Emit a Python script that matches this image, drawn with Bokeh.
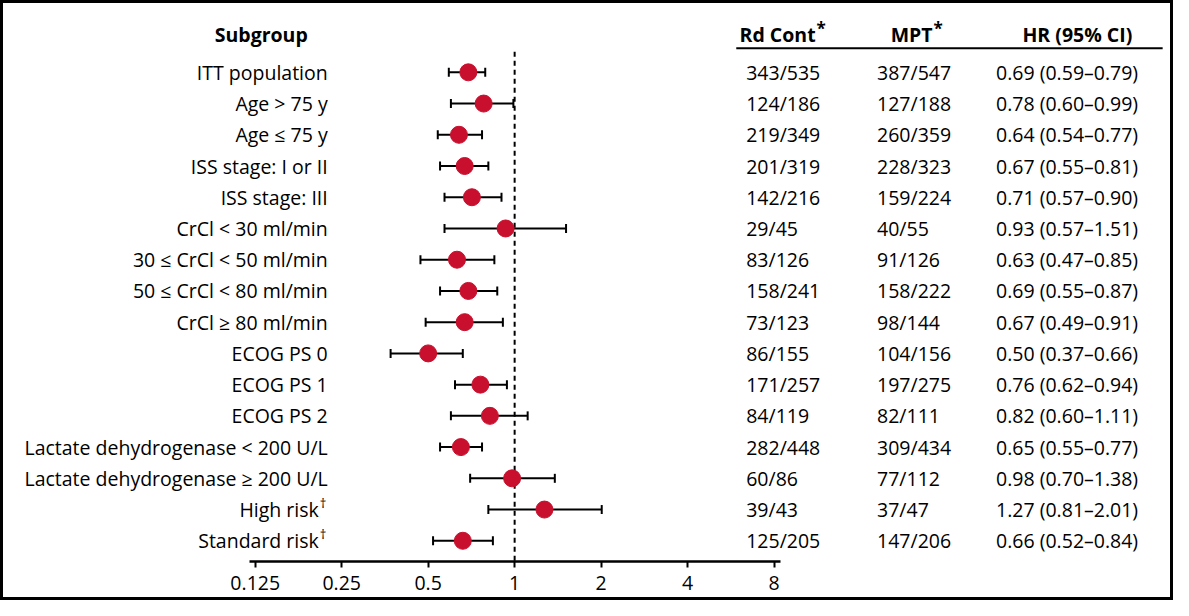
from bokeh.plotting import figure
from bokeh.models import Range1d, FixedTicker, ColumnDataSource, LinearScale
from bokeh.core.properties import value
from bokeh.embed import file_html
from bokeh.resources import INLINE

# ---------------- data ----------------
subgroups = ["ITT population", "Age > 75 y", "Age \u2264 75 y", "ISS stage: I or II",
             "ISS stage: III", "CrCl < 30 ml/min", "30 \u2264 CrCl < 50 ml/min",
             "50 \u2264 CrCl < 80 ml/min", "CrCl \u2265 80 ml/min", "ECOG PS 0",
             "ECOG PS 1", "ECOG PS 2", "Lactate dehydrogenase < 200 U/L",
             "Lactate dehydrogenase \u2265 200 U/L", "High risk", "Standard risk"]
footnotes = [""] * 14 + ["\u2020", "\u2020"]
rd_cont = ["343/535", "124/186", "219/349", "201/319", "142/216", "29/45", "83/126",
           "158/241", "73/123", "86/155", "171/257", "84/119", "282/448", "60/86",
           "39/43", "125/205"]
mpt = ["387/547", "127/188", "260/359", "228/323", "159/224", "40/55", "91/126",
       "158/222", "98/144", "104/156", "197/275", "82/111", "309/434", "77/112",
       "37/47", "147/206"]
hr = [0.69, 0.78, 0.64, 0.67, 0.71, 0.93, 0.63, 0.69, 0.67, 0.50, 0.76, 0.82, 0.65,
      0.98, 1.27, 0.66]
ci_low = [0.59, 0.60, 0.54, 0.55, 0.57, 0.57, 0.47, 0.55, 0.49, 0.37, 0.62, 0.60, 0.55,
          0.70, 0.81, 0.52]
ci_high = [0.79, 0.99, 0.77, 0.81, 0.90, 1.51, 0.85, 0.87, 0.91, 0.66, 0.94, 1.11, 0.77,
           1.38, 2.01, 0.84]
tick_values = [0.125, 0.25, 0.5, 1, 2, 4, 8]
tick_labels = ["0.125", "0.25", "0.5", "1", "2", "4", "8"]
headers = ["Subgroup", "Rd Cont", "MPT", "HR (95% CI)"]

hr_text = ["%.2f (%.2f\u2013%.2f)" % (h, l, u) for h, l, u in zip(hr, ci_low, ci_high)]
rows = list(range(len(subgroups)))

# ---------------- layout constants ----------------
BORDER = 3
W, H = 1173 - 2 * BORDER, 600 - 2 * BORDER
SX, SY = 1173 / 1189, 600 / 616          # reference picture -> our picture


def rx(x):   # reference picture x -> figure pixel
    return x * SX - BORDER


def ry(y):   # reference picture y -> figure pixel
    return y * SY - BORDER


X_ONE = rx(518.5)            # pixel of HR = 1
K = 87.2 * SX                # pixels per doubling
ROW0, ROWH = ry(73.0), 31.73 * SY
AX_Y = ry(570.0)             # pixel of x axis line
FONT = "Open Sans"
FS = "19.5px"
RED = "#C8102E"


def px2hr(px):
    return 2 ** ((px - X_ONE) / K)


def py2row(py):
    return (py - ROW0) / ROWH


p = figure(width=W, height=H, output_backend="svg", toolbar_location=None,
           x_axis_type="log",
           x_range=Range1d(px2hr(0), px2hr(W)),
           y_range=Range1d(py2row(AX_Y), py2row(0)),
           min_border_left=0, min_border_right=0, min_border_top=0,
           min_border_bottom=H - int(round(AX_Y)),
           y_axis_location=None, outline_line_color=None)
p.styles = {"border": "%dpx solid black" % BORDER, "box-sizing": "content-box"}
p.extra_x_ranges = {"px": Range1d(0, W)}
p.extra_x_scales = {"px": LinearScale()}
p.xgrid.visible = False
p.ygrid.visible = False

ax = p.xaxis[0]
ax.ticker = FixedTicker(ticks=tick_values)
ax.major_label_overrides = {v: s for v, s in zip(tick_values, tick_labels)}
ax.bounds = (px2hr(rx(251)), px2hr(rx(787)))
ax.axis_line_width = 2.5
ax.axis_line_color = "black"
ax.major_tick_line_width = 2
ax.major_tick_line_color = "black"
ax.major_tick_out = 6
ax.major_tick_in = 0
ax.minor_tick_out = 0
ax.minor_tick_in = 0
ax.minor_tick_line_color = None
ax.major_label_standoff = 8
ax.major_label_text_font = FONT
ax.major_label_text_font_size = FS
ax.major_label_text_color = "black"

# reference line at HR = 1
p.segment(x0=[1], x1=[1], y0=[py2row(ry(52))], y1=[py2row(AX_Y)],
          line_color="black", line_width=2, line_dash="5 4")

src = ColumnDataSource(dict(row=rows, hr=hr, lo=ci_low, hi=ci_high, label=subgroups,
                            rd=rd_cont, mpt=mpt, hrt=hr_text))

# confidence intervals with caps
p.segment(x0="lo", x1="hi", y0="row", y1="row", source=src, line_color="black", line_width=2)
p.scatter(x="lo", y="row", source=src, marker="dash", angle=1.5708, size=9,
          line_color="black", line_width=2)
p.scatter(x="hi", y="row", source=src, marker="dash", angle=1.5708, size=9,
          line_color="black", line_width=2)
p.scatter(x="hr", y="row", source=src, marker="circle", size=17,
          fill_color=RED, line_color=RED)

# row labels (right aligned; room for footnote marks)
src.data["labx"] = [rx(321) if f else rx(330) for f in footnotes]
p.text(x="labx", y="row", text="label", source=src, x_range_name="px",
       text_align="right", text_baseline="middle", text_font=value(FONT),
       text_font_size=FS, text_color="black")
fn_rows = [r for r, f in zip(rows, footnotes) if f]
fn_txt = [f for f in footnotes if f]
p.text(x=[rx(322)] * len(fn_rows), y=[r - 0.22 for r in fn_rows], text=fn_txt,
       x_range_name="px", text_align="left", text_baseline="middle",
       text_font=value(FONT), text_font_size="13px", text_color="black")

# table columns
for col, xpos in (("rd", 752), ("mpt", 884), ("hrt", 1004)):
    p.text(x=rx(xpos), y="row", text=col, source=src, x_range_name="px", text_align="left",
           text_baseline="middle", text_font=value(FONT), text_font_size=FS,
           text_color="black")

# headers
hy = py2row(ry(35))
p.text(x=[rx(263)], y=[hy], text=[headers[0]], x_range_name="px", text_align="center",
       text_baseline="middle", text_font=value(FONT), text_font_size=FS,
       text_font_style="bold", text_color="black")
p.text(x=[rx(822), rx(940)], y=[hy, hy], text=[headers[1], headers[2]], x_range_name="px",
       text_align="right", text_baseline="middle", text_font=value(FONT), text_font_size=FS,
       text_font_style="bold", text_color="black")
p.text(x=[rx(823), rx(941)], y=[py2row(ry(28))] * 2, text=["*", "*"], x_range_name="px",
       text_align="left", text_baseline="middle", text_font=value(FONT),
       text_font_size="17px", text_font_style="bold", text_color="black")
p.text(x=[rx(1086)], y=[hy], text=[headers[3]], x_range_name="px", text_align="center",
       text_baseline="middle", text_font=value(FONT), text_font_size=FS,
       text_font_style="bold", text_color="black")
p.segment(x0=[rx(742)], x1=[rx(1172)], y0=[py2row(ry(48.5))], y1=[py2row(ry(48.5))],
          x_range_name="px", line_color="black", line_width=2)

open("out.html", "w").write(file_html(p, INLINE))
